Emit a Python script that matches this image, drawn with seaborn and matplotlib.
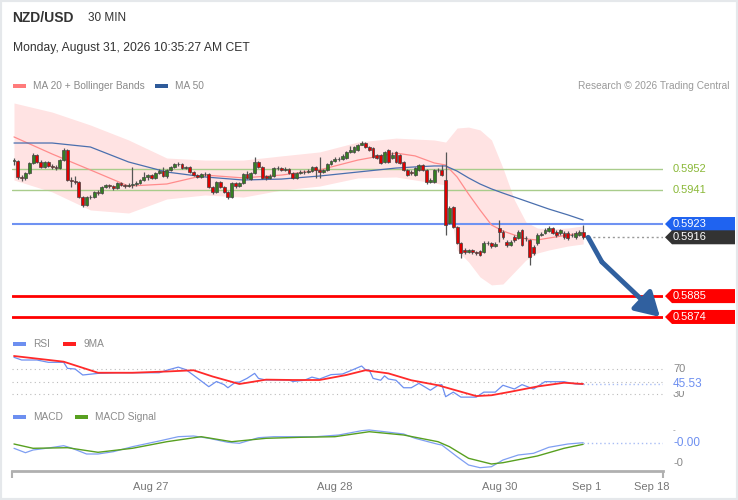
import numpy as np
import pandas as pd
import matplotlib
matplotlib.use("Agg")
import matplotlib.pyplot as plt
from matplotlib.patches import Polygon, Rectangle
from matplotlib import transforms
import seaborn as sns

# ---- candles (30 min, NZD/USD) ----
opens = [0.59562, 0.59562, 0.59478, 0.59473, 0.59499, 0.59552, 0.59594, 0.59557, 0.59531, 0.59557,
         0.59536, 0.59531, 0.59525, 0.59567, 0.59620, 0.59462, 0.59457, 0.59451, 0.59372, 0.59330,
         0.59372, 0.59370, 0.59399, 0.59393, 0.59425, 0.59436, 0.59430, 0.59420, 0.59446, 0.59436,
         0.59430, 0.59436, 0.59441, 0.59446, 0.59462, 0.59478, 0.59488, 0.59473, 0.59499, 0.59509,
         0.59483, 0.59515, 0.59531, 0.59546, 0.59544, 0.59525, 0.59531, 0.59504, 0.59488, 0.59478,
         0.59494, 0.59492, 0.59425, 0.59399, 0.59451, 0.59425, 0.59399, 0.59372, 0.59446, 0.59430,
         0.59446, 0.59494, 0.59467, 0.59499, 0.59557, 0.59531, 0.59483, 0.59473, 0.59483, 0.59525,
         0.59523, 0.59515, 0.59520, 0.59499, 0.59473, 0.59499, 0.59504, 0.59502, 0.59509, 0.59531,
         0.59515, 0.59504, 0.59515, 0.59546, 0.59562, 0.59573, 0.59571, 0.59578, 0.59610, 0.59610,
         0.59620, 0.59647, 0.59657, 0.59636, 0.59631, 0.59594, 0.59594, 0.59557, 0.59620, 0.59578,
         0.59610, 0.59594, 0.59557, 0.59515, 0.59504, 0.59488, 0.59515, 0.59541, 0.59515, 0.59451,
         0.59451, 0.59515, 0.59515, 0.59462, 0.59235, 0.59320, 0.59214, 0.59130, 0.59093, 0.59082,
         0.59093, 0.59082, 0.59088, 0.59082, 0.59130, 0.59128, 0.59114, 0.59209, 0.59188, 0.59135,
         0.59119, 0.59162, 0.59156, 0.59198, 0.59156, 0.59146, 0.59109, 0.59130, 0.59172, 0.59183,
         0.59193, 0.59209, 0.59188, 0.59183, 0.59183, 0.59183, 0.59172, 0.59162, 0.59172, 0.59188]
closes = [0.59567, 0.59478, 0.59473, 0.59499, 0.59552, 0.59594, 0.59557, 0.59531, 0.59557, 0.59536,
          0.59531, 0.59525, 0.59567, 0.59620, 0.59462, 0.59457, 0.59451, 0.59372, 0.59330, 0.59372,
          0.59370, 0.59399, 0.59393, 0.59425, 0.59436, 0.59430, 0.59420, 0.59446, 0.59436, 0.59430,
          0.59436, 0.59441, 0.59446, 0.59462, 0.59478, 0.59488, 0.59473, 0.59499, 0.59509, 0.59483,
          0.59515, 0.59531, 0.59546, 0.59544, 0.59525, 0.59531, 0.59504, 0.59488, 0.59478, 0.59494,
          0.59492, 0.59425, 0.59399, 0.59451, 0.59425, 0.59399, 0.59372, 0.59446, 0.59430, 0.59446,
          0.59494, 0.59473, 0.59499, 0.59557, 0.59531, 0.59473, 0.59473, 0.59483, 0.59525, 0.59523,
          0.59515, 0.59520, 0.59499, 0.59473, 0.59499, 0.59504, 0.59502, 0.59509, 0.59531, 0.59515,
          0.59504, 0.59515, 0.59546, 0.59562, 0.59573, 0.59571, 0.59589, 0.59610, 0.59620, 0.59636,
          0.59647, 0.59657, 0.59636, 0.59620, 0.59583, 0.59578, 0.59552, 0.59610, 0.59557, 0.59594,
          0.59557, 0.59552, 0.59515, 0.59488, 0.59499, 0.59525, 0.59541, 0.59515, 0.59451, 0.59462,
          0.59515, 0.59513, 0.59488, 0.59225, 0.59314, 0.59214, 0.59130, 0.59077, 0.59082, 0.59093,
          0.59082, 0.59077, 0.59067, 0.59130, 0.59128, 0.59114, 0.59125, 0.59188, 0.59162, 0.59119,
          0.59135, 0.59146, 0.59188, 0.59119, 0.59154, 0.59056, 0.59077, 0.59172, 0.59177, 0.59198,
          0.59209, 0.59183, 0.59172, 0.59198, 0.59162, 0.59156, 0.59170, 0.59183, 0.59188, 0.59160]
highs = [0.59578, 0.59567, 0.59488, 0.59504, 0.59557, 0.59604, 0.59599, 0.59567, 0.59562, 0.59562,
         0.59546, 0.59541, 0.59573, 0.59631, 0.59625, 0.59478, 0.59483, 0.59457, 0.59378, 0.59378,
         0.59383, 0.59404, 0.59409, 0.59430, 0.59441, 0.59441, 0.59436, 0.59451, 0.59451, 0.59441,
         0.59446, 0.59531, 0.59457, 0.59467, 0.59504, 0.59494, 0.59494, 0.59504, 0.59520, 0.59531,
         0.59520, 0.59536, 0.59552, 0.59557, 0.59552, 0.59536, 0.59536, 0.59509, 0.59494, 0.59499,
         0.59504, 0.59499, 0.59430, 0.59457, 0.59457, 0.59430, 0.59404, 0.59451, 0.59451, 0.59451,
         0.59499, 0.59509, 0.59504, 0.59583, 0.59562, 0.59536, 0.59488, 0.59494, 0.59531, 0.59536,
         0.59531, 0.59531, 0.59525, 0.59504, 0.59504, 0.59515, 0.59515, 0.59520, 0.59536, 0.59536,
         0.59583, 0.59520, 0.59552, 0.59567, 0.59583, 0.59583, 0.59599, 0.59615, 0.59641, 0.59641,
         0.59652, 0.59668, 0.59662, 0.59641, 0.59636, 0.59599, 0.59599, 0.59615, 0.59625, 0.59610,
         0.59615, 0.59599, 0.59562, 0.59520, 0.59515, 0.59531, 0.59546, 0.59546, 0.59520, 0.59473,
         0.59520, 0.59525, 0.59541, 0.59610, 0.59325, 0.59325, 0.59220, 0.59135, 0.59104, 0.59098,
         0.59098, 0.59088, 0.59093, 0.59141, 0.59141, 0.59135, 0.59135, 0.59251, 0.59198, 0.59146,
         0.59146, 0.59172, 0.59198, 0.59204, 0.59167, 0.59151, 0.59119, 0.59183, 0.59188, 0.59209,
         0.59220, 0.59214, 0.59198, 0.59204, 0.59193, 0.59193, 0.59183, 0.59193, 0.59198, 0.59225]
lows = [0.59541, 0.59467, 0.59457, 0.59462, 0.59494, 0.59546, 0.59552, 0.59525, 0.59525, 0.59531,
        0.59520, 0.59515, 0.59520, 0.59562, 0.59457, 0.59425, 0.59441, 0.59367, 0.59320, 0.59325,
        0.59362, 0.59367, 0.59383, 0.59388, 0.59420, 0.59420, 0.59409, 0.59415, 0.59430, 0.59420,
        0.59425, 0.59420, 0.59430, 0.59441, 0.59457, 0.59462, 0.59467, 0.59467, 0.59494, 0.59478,
        0.59473, 0.59509, 0.59525, 0.59536, 0.59520, 0.59520, 0.59499, 0.59483, 0.59473, 0.59473,
        0.59483, 0.59420, 0.59388, 0.59393, 0.59420, 0.59393, 0.59362, 0.59367, 0.59420, 0.59425,
        0.59441, 0.59467, 0.59462, 0.59494, 0.59525, 0.59467, 0.59462, 0.59467, 0.59478, 0.59515,
        0.59509, 0.59509, 0.59494, 0.59467, 0.59467, 0.59494, 0.59494, 0.59499, 0.59504, 0.59473,
        0.59473, 0.59499, 0.59509, 0.59541, 0.59557, 0.59562, 0.59567, 0.59573, 0.59604, 0.59604,
        0.59615, 0.59647, 0.59631, 0.59615, 0.59578, 0.59573, 0.59546, 0.59552, 0.59552, 0.59573,
        0.59552, 0.59546, 0.59509, 0.59483, 0.59488, 0.59483, 0.59509, 0.59509, 0.59441, 0.59446,
        0.59446, 0.59504, 0.59483, 0.59172, 0.59230, 0.59209, 0.59125, 0.59051, 0.59072, 0.59077,
        0.59072, 0.59067, 0.59062, 0.59077, 0.59119, 0.59104, 0.59109, 0.59135, 0.59151, 0.59109,
        0.59114, 0.59135, 0.59151, 0.59114, 0.59141, 0.59014, 0.59067, 0.59119, 0.59167, 0.59177,
        0.59188, 0.59177, 0.59162, 0.59172, 0.59151, 0.59146, 0.59162, 0.59151, 0.59167, 0.59151]

# MA 20 + Bollinger Bands and MA 50, read at these candle positions
band_idx = [0, 10, 20, 30, 40, 50, 60, 70, 80, 90, 100, 105, 110, 113, 116, 119, 122, 125,
            128, 131, 134, 137, 140, 145, 149]
ma20 = [0.59689, 0.59599, 0.59515, 0.59430, 0.59441, 0.59488, 0.59473, 0.59488, 0.59515, 0.59567,
        0.59604, 0.59589, 0.59552, 0.59541, 0.59478, 0.59388, 0.59304, 0.59225, 0.59193, 0.59172,
        0.59151, 0.59146, 0.59156, 0.59172, 0.59183]
bb_upper = [0.59868, 0.59820, 0.59752, 0.59673, 0.59578, 0.59567, 0.59567, 0.59589, 0.59610, 0.59662,
            0.59683, 0.59678, 0.59673, 0.59662, 0.59736, 0.59741, 0.59726, 0.59673, 0.59525, 0.59357,
            0.59241, 0.59209, 0.59204, 0.59209, 0.59220]
bb_lower = [0.59462, 0.59399, 0.59304, 0.59288, 0.59362, 0.59383, 0.59372, 0.59409, 0.59430, 0.59473,
            0.59478, 0.59462, 0.59446, 0.59436, 0.59093, 0.59030, 0.58951, 0.58909, 0.58914, 0.58977,
            0.59040, 0.59077, 0.59093, 0.59114, 0.59125]
ma50 = [0.59657, 0.59657, 0.59636, 0.59557, 0.59504, 0.59478, 0.59462, 0.59467, 0.59483, 0.59504,
        0.59525, 0.59531, 0.59536, 0.59536, 0.59509, 0.59473, 0.59441, 0.59415, 0.59393, 0.59372,
        0.59351, 0.59330, 0.59309, 0.59278, 0.59251]

# key levels
resist_levels = [0.5952, 0.5941]
pivot_level = 0.5923
last_price = 0.5916
support_levels = [0.5885, 0.5874]

# forecast arrow path (candle position, price)
arrow_i = [150.3, 153.9, 169.1]
arrow_p = [0.5916, 0.5903, 0.5874]

# RSI and its 9 period MA
rsi_idx = [0, 2, 6, 9, 13, 14, 16, 18, 22, 27, 38, 40, 43, 45, 47, 51, 53, 55, 56, 58, 59, 61, 63,
           64, 66, 72, 73, 76, 78, 80, 83, 86, 88, 91, 92, 93, 94, 96, 97, 98, 100, 102, 104, 106,
           109, 111, 112, 113, 115, 117, 121, 123, 126, 128, 131, 133, 136, 139, 144, 147, 149]
rsi_vals = [88.7, 84.4, 84.4, 80.7, 80.7, 71, 70, 60.4, 63, 64, 64, 68, 73, 69, 60, 41.7, 50, 45,
            40, 49, 49, 55, 63, 55, 52.4, 52.4, 50, 52, 57, 54, 61, 62, 67, 74.8, 69, 68.4, 55, 52,
            59, 54, 52, 40, 40, 47, 36, 44, 45, 25.7, 33, 25, 25, 33, 33, 44, 38, 45, 38, 49.7,
            49.7, 46, 45.53]
ma9_idx = [0, 13, 22, 31, 40, 47, 52, 59, 66, 73, 80, 87, 92, 98, 104, 111, 121, 125, 130, 137,
           144, 149]
ma9_vals = [90.8, 81.7, 64, 64, 66, 68, 58, 46, 53, 52.4, 52.4, 60.4, 68, 63, 52, 44, 26.7, 28,
            33.6, 42, 48, 46]
rsi_levels = [70, 50, 30]

# MACD (in 1e-4)
macd_idx = [0, 3, 5, 9, 13, 15, 19, 22, 26, 31, 38, 43, 47, 51, 56, 59, 64, 68, 73, 79, 85, 91,
            93, 97, 102, 105, 111, 112, 116, 119, 122, 125, 128, 132, 136, 140, 145, 149]
macd_vals = [-2.46, -3.34, -2.8, -2.4, -1.94, -2.4, -3.6, -3.6, -3.14, -2.14, -1.0, -0.14, 0,
             -0.46, -1.26, -1.46, -0.34, -0.14, -0.14, -0.14, 0.2, 1.06, 1.2, 0.86, 0.4, -0.46,
             -1.66, -1.8, -4.14, -5.8, -6.34, -6.14, -4.8, -3.8, -3.46, -2.26, -1.6, -1.34]
sig_idx = [0, 5, 14, 22, 31, 40, 49, 57, 66, 75, 84, 93, 102, 111, 114, 119, 125, 128, 137, 144, 149]
sig_vals = [-1.6, -2.46, -2.34, -3.26, -2.46, -1.14, -0.14, -1.14, -0.46, -0.26, -0.14, 0.86, 0.2,
            -1.14, -2.14, -4.46, -5.6, -5.34, -4.0, -2.46, -1.66]

tick_pos = [35.9, 84.0, 127.2, 150.0, 167.0]
tick_labels = ["Aug 27", "Aug 28", "Aug 30", "Sep 1", "Sep 18"]

sns.set_theme(style="white")
plt.rcParams["font.family"] = ["Liberation Sans", "DejaVu Sans"]

W, H = 738, 500
fig = plt.figure(figsize=(W / 100, H / 100), dpi=100)
fig.patch.set_facecolor("white")


def fx(x):
    return x / W


def fy(y):
    return 1 - y / H


L, R = 12, 663
ax = fig.add_axes([fx(L), fy(330), (R - L) / W, 235 / H])
rsi_ax = fig.add_axes([fx(L), fy(404), (R - L) / W, 52 / H], sharex=ax)
macd_ax = fig.add_axes([fx(L), fy(471), (R - L) / W, 46 / H], sharex=ax)

xlo, xhi = -0.52, 169.9
ax.set_xlim(xlo, xhi)
ax.set_ylim(0.586713, 0.599101)
rsi_ax.set_ylim(14, 97.2)
macd_ax.set_ylim(-7.0, 2.2)

# ---- main panel ----
df = pd.DataFrame({"open": opens, "close": closes, "high": highs, "low": lows})
df["i"] = np.arange(len(df))
up = df["close"] >= df["open"]

bands = pd.DataFrame({"i": band_idx, "ma20": ma20, "upper": bb_upper, "lower": bb_lower, "ma50": ma50})
ax.fill_between(bands["i"], bands["lower"], bands["upper"], color="#ffe3e3", lw=0, zorder=1)
sns.lineplot(data=bands, x="i", y="ma20", ax=ax, color="#ff8c8c", lw=0.9, zorder=2)
sns.lineplot(data=bands, x="i", y="ma50", ax=ax, color="#4a6fae", lw=0.9, zorder=2)

for lv in resist_levels:
    ax.axhline(lv, color="#a9cc8c", lw=1.0, zorder=1.5)
ax.axhline(pivot_level, color="#6f92f2", lw=1.5, zorder=1.5)
for lv in support_levels:
    ax.axhline(lv, color="#ff0000", lw=2, zorder=1.5)

ax.vlines(df["i"], df["low"], df["high"], color="#555555", lw=0.9, zorder=3)
body = (df["close"] - df["open"]).abs().clip(lower=0.00002)
bottom = df[["open", "close"]].min(axis=1)
ax.bar(df["i"], body, bottom=bottom, width=0.75,
       color=np.where(up, "#357f22", "#e00000"), edgecolor="#444444", linewidth=0.5, zorder=4)

ax.hlines(last_price, arrow_i[0], xhi, color="#999999", ls=(0, (1.5, 2)), lw=1, zorder=2)

arrow_col = "#30609f"
ax.plot(arrow_i[:2], arrow_p[:2], color=arrow_col, lw=3.5, solid_capstyle="round", zorder=6)
ax.annotate("", xy=(arrow_i[2], arrow_p[2]), xytext=(arrow_i[1], arrow_p[1]),
            arrowprops=dict(arrowstyle="-|>,head_length=1.2,head_width=0.7", color=arrow_col,
                            lw=3.5, shrinkA=0, shrinkB=0, mutation_scale=12), zorder=6)

# price tags on the right
trans = transforms.blended_transform_factory(fig.transFigure, ax.transData)
yr = ax.get_ylim()
hh = 7 * (yr[1] - yr[0]) / 235


def tag(price, color):
    pts = [(fx(665), price), (fx(672), price + hh), (fx(735), price + hh),
           (fx(735), price - hh), (fx(672), price - hh)]
    ax.add_patch(Polygon(pts, closed=True, transform=trans, facecolor=color,
                         edgecolor="none", clip_on=False, zorder=7))
    ax.text(fx(673), price, f"{price:.4f}", transform=trans, color="white", fontsize=8,
            va="center", ha="left", zorder=8, clip_on=False)


for lv in resist_levels:
    ax.text(fx(673), lv, f"{lv:.4f}", transform=trans, color="#8ab837", fontsize=8,
            va="center", ha="left", clip_on=False)
tag(pivot_level, "#1f63f0")
tag(last_price, "#333333")
for lv in support_levels:
    tag(lv, "#ff0000")

# ---- RSI panel ----
for lv in rsi_levels:
    rsi_ax.axhline(lv, color="#bbbbbb", ls=(0, (1, 3)), lw=0.8)
sns.lineplot(x=rsi_idx, y=rsi_vals, ax=rsi_ax, color="#6d8ff0", lw=0.9)
sns.lineplot(x=ma9_idx, y=ma9_vals, ax=rsi_ax, color="#ff2a2a", lw=1.3)
rsi_ax.hlines(rsi_vals[-1], rsi_idx[-1], xhi, color="#a9bdf5", ls=(0, (1, 2)), lw=1)
rtrans = transforms.blended_transform_factory(fig.transFigure, rsi_ax.transData)
rsi_ax.text(fx(673), 70, "70", transform=rtrans, color="#888888", fontsize=8, va="center", clip_on=False)
rsi_ax.text(fx(673), 30, "30", transform=rtrans, color="#888888", fontsize=8, va="center", clip_on=False)
rsi_ax.text(fx(673), rsi_vals[-1], f"{rsi_vals[-1]:.2f}", transform=rtrans, color="#6d8ff0",
            fontsize=8.5, va="center", clip_on=False,
            bbox=dict(facecolor="white", edgecolor="none", pad=0.5))

# ---- MACD panel ----
sns.lineplot(x=macd_idx, y=macd_vals, ax=macd_ax, color="#7f9ff2", lw=0.9)
sns.lineplot(x=sig_idx, y=sig_vals, ax=macd_ax, color="#58a020", lw=1.0)
macd_ax.hlines(macd_vals[-1], macd_idx[-1], xhi, color="#a9bdf5", ls=(0, (1, 2)), lw=1)
mtrans = transforms.blended_transform_factory(fig.transFigure, macd_ax.transData)
macd_ax.text(fx(673), 1.1, "-", transform=mtrans, color="#888888", fontsize=6, va="center", clip_on=False)
macd_ax.text(fx(673), macd_vals[-1], "-0.00", transform=mtrans, color="#6d8ff0", fontsize=8.5,
             va="center", clip_on=False)
macd_ax.text(fx(673), -5.4, "-0", transform=mtrans, color="#888888", fontsize=8, va="center", clip_on=False)

# ---- axes cosmetics ----
for a in (ax, rsi_ax, macd_ax):
    a.set_xlabel("")
    a.set_ylabel("")
    a.set_facecolor("none")
    for s in a.spines.values():
        s.set_visible(False)
    a.set_yticks([])
ax.tick_params(axis="x", which="both", bottom=False, labelbottom=False)
rsi_ax.tick_params(axis="x", which="both", bottom=False, labelbottom=False)
macd_ax.spines["bottom"].set_visible(True)
macd_ax.spines["bottom"].set_color("#b0b0b0")
macd_ax.spines["bottom"].set_linewidth(2)
macd_ax.set_xticks(tick_pos)
macd_ax.set_xticklabels(tick_labels)
macd_ax.set_xticks([xlo, xhi], minor=True)
macd_ax.tick_params(axis="x", which="major", length=0, pad=8, labelsize=8, labelcolor="#777777")
macd_ax.tick_params(axis="x", which="minor", length=5, width=1.5, color="#b0b0b0",
                    direction="out", bottom=True)
macd_ax.set_xlim(xlo, xhi)

# ---- header and legends ----
fig.text(fx(12), fy(18), "NZD/USD", weight="bold", fontsize=10, color="#333333", va="center")
fig.text(fx(88), fy(18), "30 MIN", fontsize=8.5, color="#333333", va="center")
fig.text(fx(13), fy(48), "Monday, August 31, 2026 10:35:27 AM CET", fontsize=8.7,
         color="#333333", va="center")


def legend_item(x, y, color, label, x_text):
    fig.patches.append(Rectangle((fx(x), fy(y + 2)), 13 / W, 4 / H, transform=fig.transFigure,
                                 facecolor=color, edgecolor="none"))
    fig.text(fx(x_text), fy(y), label, fontsize=7.3, color="#8a8a8a", va="center")


legend_item(13, 86, "#ff7b7b", "MA 20 + Bollinger Bands", 33)
legend_item(155, 86, "#2f5b9a", "MA 50", 175)
fig.text(fx(729), fy(86), "Research \u00a9 2026 Trading Central", fontsize=7.3, color="#9a9a9a",
         va="center", ha="right")
legend_item(13, 344, "#6d8ff0", "RSI", 33)
legend_item(63, 344, "#ff2020", "9MA", 83)
legend_item(13, 417, "#6d8ff0", "MACD", 33)
legend_item(75, 417, "#58a020", "MACD Signal", 95)

fig.patches.append(Rectangle((0, 0), 1, 1, transform=fig.transFigure, fill=False,
                             edgecolor="#e5e8eb", lw=3))

fig.savefig("out.png", dpi=100)
